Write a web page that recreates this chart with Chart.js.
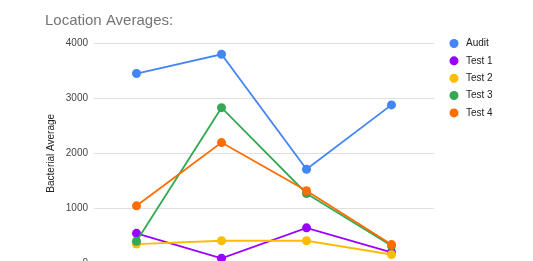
<!DOCTYPE html>
<html>
<head>
<meta charset="utf-8">
<script src="https://cdn.jsdelivr.net/npm/chart.js@4"></script>
<style>
    html, body { margin: 0; padding: 0; background: #fff; overflow: hidden; }
    #wrap { width: 533px; height: 261px; overflow: hidden; }
</style>
</head>
<body>
<div id="wrap"><canvas id="avg-chart" width="533" height="290"></canvas></div>
<script>
/* Location Averages line chart */

const locations = ['1', '2', '3', '4'];
const seriesNames = ['Audit', 'Test 1', 'Test 2', 'Test 3', 'Test 4'];
const seriesColors = ['#4285f4', '#9900ff', '#fbbc04', '#34a853', '#ff6d01'];

const audit = [3450, 3800, 1710, 2880];
const test1 = [545, 90, 645, 200];
const test2 = [350, 410, 410, 160];
const test3 = [400, 2830, 1270, 320];
const test4 = [1045, 2195, 1320, 340];

const yTicks = [0, 1000, 2000, 3000, 4000];

const FONT = "Arial, 'Liberation Sans', sans-serif";

const seriesData = [audit, test1, test2, test3, test4];

// legend drawn on the right, like the sheets chart
const sideLegend = {
    id: 'sideLegend',
    afterDraw(chart) {
        const ctx = chart.ctx;
        ctx.save();
        ctx.font = '10px ' + FONT;
        ctx.textBaseline = 'middle';
        ctx.textAlign = 'left';
        chart.data.datasets.forEach((ds, i) => {
            const y = 43.5 + i * 17.35;
            ctx.fillStyle = ds.borderColor;
            ctx.beginPath();
            ctx.arc(454, y, 4.5, 0, Math.PI * 2);
            ctx.fill();
            ctx.fillStyle = '#222';
            ctx.fillText(ds.label, 466, y);
        });
        ctx.restore();
    }
};

const datasets = seriesNames.map((name, i) => ({
    label: name,
    data: seriesData[i],
    borderColor: seriesColors[i],
    backgroundColor: seriesColors[i],
    pointBackgroundColor: seriesColors[i],
    pointBorderWidth: 0,
    pointRadius: 4.5,
    borderWidth: 1.8,
    tension: 0,
    fill: false,
    order: seriesNames.length - i,
}));

const ctx = document.getElementById('avg-chart').getContext('2d');
const chart = new Chart(ctx, {
    type: 'line',
    data: { labels: locations, datasets: datasets },
    options: {
        responsive: false,
        animation: false,
        events: [],
        layout: { padding: { left: 45, right: 99, top: 0, bottom: 26.7 } },
        scales: {
            x: {
                display: false,
                offset: true,
            },
            y: {
                min: 0,
                max: 4000,
                afterBuildTicks: axis => { axis.ticks = yTicks.map(v => ({ value: v })); },
                afterFit: axis => { axis.width = 49; },
                grid: { color: '#e0e0e0', lineWidth: 1, drawTicks: false },
                border: { display: false },
                ticks: {
                    padding: 6,
                    color: '#444',
                    font: { family: FONT, size: 10 },
                    callback: v => String(v),
                },
                title: {
                    display: true,
                    text: 'Bacterial Average',
                    color: '#222',
                    padding: 0,
                    font: { family: FONT, size: 10 },
                }
            }
        },
        plugins: {
            legend: { display: false },
            tooltip: { enabled: false },
            title: {
                display: true,
                text: 'Location Averages:',
                align: 'start',
                color: '#757575',
                font: { family: FONT, size: 15, weight: 'normal' },
                padding: { top: 12, bottom: 13.3 },
            }
        }
    },
    plugins: [sideLegend]
});
</script>
</body>
</html>
